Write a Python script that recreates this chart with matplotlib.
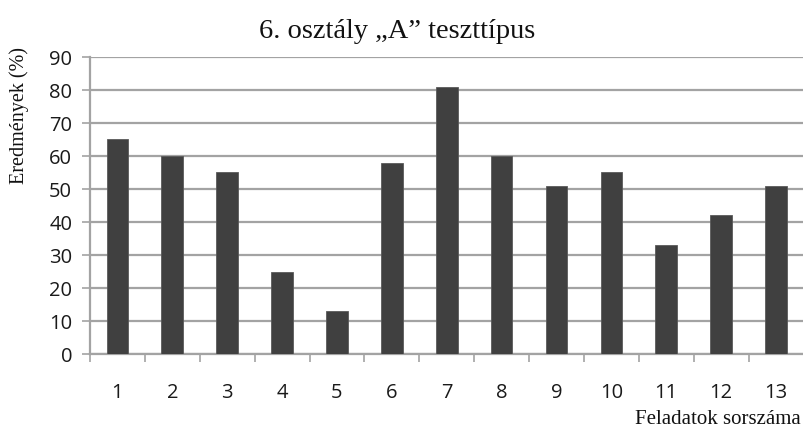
import matplotlib
matplotlib.use("Agg")
import matplotlib.pyplot as plt
import numpy as np
from matplotlib.ticker import FixedLocator, NullFormatter

categories = ["1", "2", "3", "4", "5", "6", "7", "8", "9", "10", "11", "12", "13"]
values = [65, 60, 55, 25, 13, 58, 81, 60, 51, 55, 33, 42, 51]
yticks = [0, 10, 20, 30, 40, 50, 60, 70, 80, 90]

title = "6. osztály \u201eA\u201d teszttípus"
ylabel = "Eredmények (%)"
xlabel = "Feladatok sorszáma"

DPI = 100
fig = plt.figure(figsize=(8.04, 4.31), dpi=DPI)
ax = fig.add_axes([90 / 804, 1 - 355 / 431, (803.5 - 90) / 804, (355 - 58) / 431])

x = np.arange(len(categories))
ax.bar(x, values, width=0.395, color="#404040", edgecolor="#5a5a5a", linewidth=0.6, zorder=3)

ax.set_xlim(-0.5, len(categories) - 0.5)
ax.set_ylim(0, 90)
ax.set_yticks(yticks)
ax.set_xticks(x)
ax.set_xticklabels(categories)
ax.xaxis.set_minor_locator(FixedLocator(np.arange(len(categories) + 1) - 0.5))
ax.xaxis.set_minor_formatter(NullFormatter())

grid_c = "#a3a3a3"
ax.yaxis.grid(True, color=grid_c, linewidth=1.6, zorder=0)
ax.set_axisbelow(True)
for s in ["top", "right"]:
    ax.spines[s].set_visible(False)
for s in ["left", "bottom"]:
    ax.spines[s].set_color(grid_c)
    ax.spines[s].set_linewidth(1.6)

ax.tick_params(axis="y", which="major", length=5.8, width=1.2, color=grid_c, pad=7)
ax.tick_params(axis="x", which="major", length=0, pad=20.5)
ax.tick_params(axis="x", which="minor", length=5.5, width=1.2, color=grid_c)
for lab in ax.get_xticklabels() + ax.get_yticklabels():
    lab.set_fontfamily("Open Sans")
    lab.set_fontsize(14.5)
    lab.set_color("#1a1a1a")

serif = ["Liberation Serif", "DejaVu Serif"]
fig.text(0.494, 1 - 38 / 431, title, ha="center", va="baseline", fontsize=20.5, family=serif, color="#111111")
fig.text(19 / 804, 1 - 116 / 431, ylabel, ha="center", va="center", rotation=90, fontsize=14.5, family=serif, color="#111111")
fig.text(0.996, 1 - 424 / 431, xlabel, ha="right", va="baseline", fontsize=15, family=serif, color="#111111")

fig.savefig("out.png", dpi=DPI)
